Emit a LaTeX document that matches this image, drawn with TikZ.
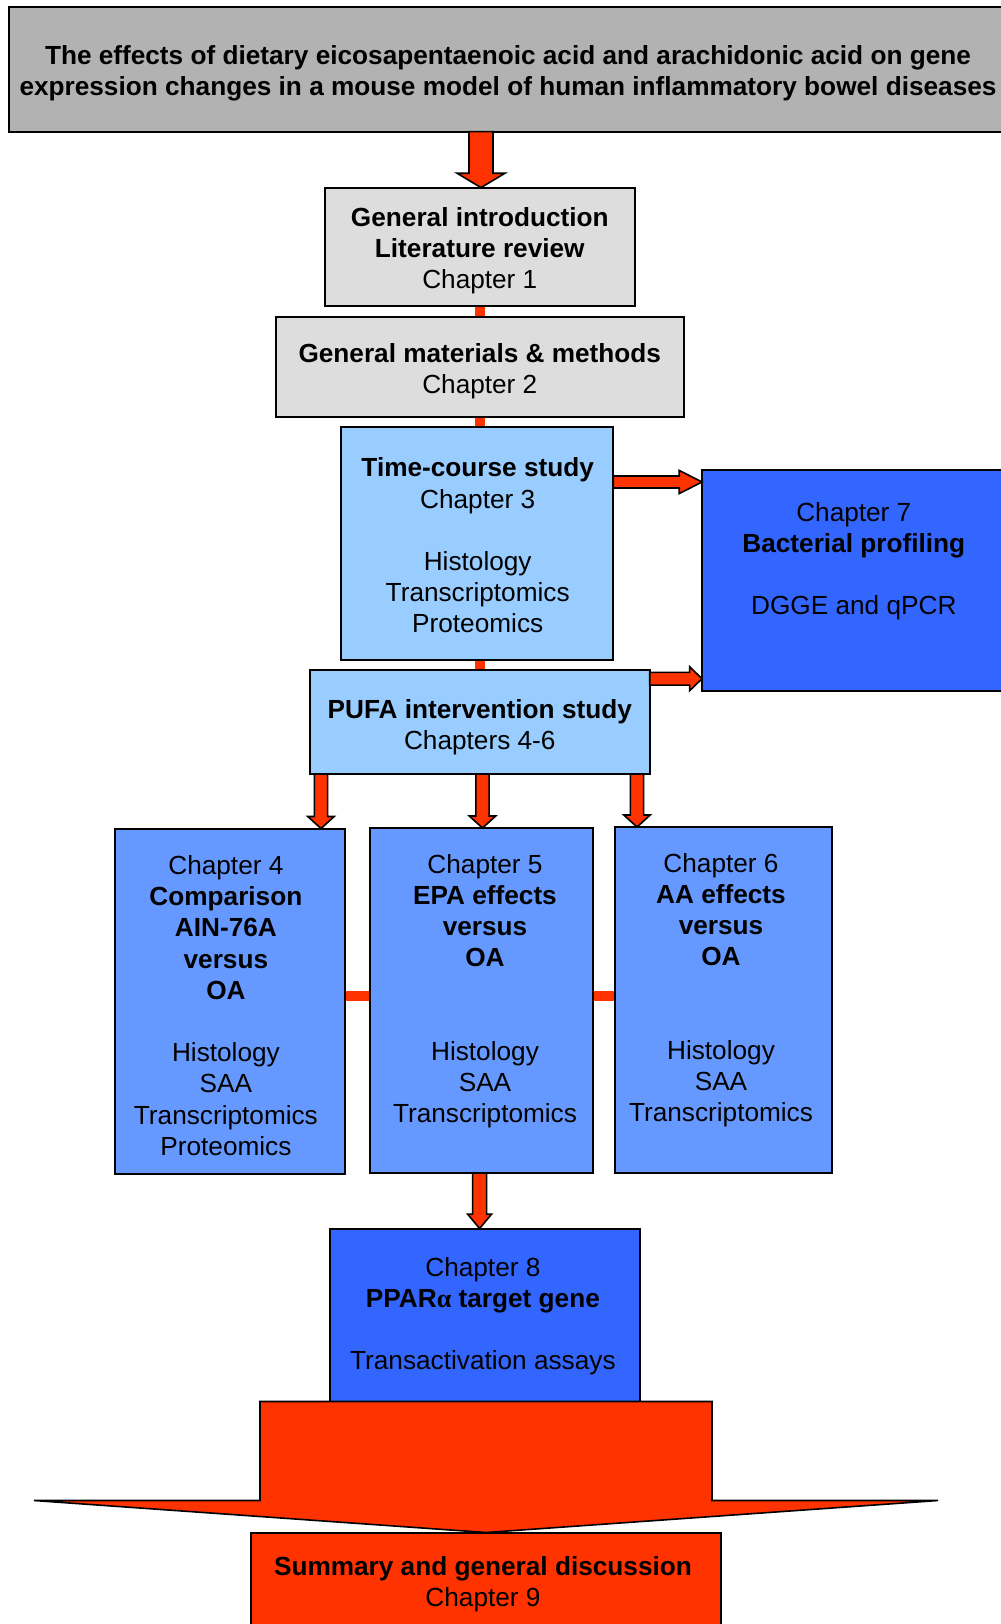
\documentclass[tikz,border=0pt]{standalone}
\usepackage{fontspec}
\setmainfont{Liberation Sans}
\newfontfamily\greekserif{Liberation Serif}
\usetikzlibrary{calc,fit,backgrounds}

\definecolor{titlegrey}{HTML}{B2B2B2}
\definecolor{boxgrey}{HTML}{DDDDDD}
\definecolor{paleblue}{HTML}{99CCFF}
\definecolor{midblue}{HTML}{6699FF}
\definecolor{deepblue}{HTML}{3366FF}
\definecolor{flowred}{HTML}{FF3300}

% block arrow pointing down: #1 top point, #2 tip point,
% #3 half shaft width, #4 half head width, #5 head length
\newcommand\arrowdown[5]{%
  \draw[blockarrow] let \p1=#1, \p2=#2 in
    (\x1-#3,\y1) -- (\x1+#3,\y1) -- (\x1+#3,\y2+#5) -- (\x1+#4,\y2+#5)
    -- (\x1,\y2) -- (\x1-#4,\y2+#5) -- (\x1-#3,\y2+#5) -- cycle;}
% block arrow pointing right: #1 tail point, #2 tip point
\newcommand\arrowright[5]{%
  \draw[blockarrow] let \p1=#1, \p2=#2 in
    (\x1,\y1+#3) -- (\x2-#5,\y1+#3) -- (\x2-#5,\y1+#4) -- (\x2,\y1)
    -- (\x2-#5,\y1-#4) -- (\x2-#5,\y1-#3) -- (\x1,\y1-#3) -- cycle;}

\tikzset{
  frame/.style={draw=black, line width=1pt, inner sep=0pt, outer sep=0pt},
  txt/.style={align=center, font=\fontsize{13.1}{15.6}\selectfont, inner sep=0pt,
    execute at begin node=\strut, execute at end node=\strut},
  blockarrow/.style={fill=flowred, draw=black, line width=0.8pt, line join=miter},
  link/.style={draw=flowred, line width=5pt}
}

\begin{document}
\begin{tikzpicture}[x=0.5pt,y=-0.5pt]
\useasboundingbox (0,0) rectangle (1001,1624);

% reference positions for connectors
\coordinate (xtop) at (481,0);
\coordinate (xl) at (321,0);
\coordinate (xm) at (482.5,0);
\coordinate (xr) at (637,0);
\coordinate (x8) at (479.6,0);
\coordinate (xbig) at (486,0);
\coordinate (xbar) at (480,0);
\coordinate (ybar) at (0,995.7);
\coordinate (y7a) at (0,482);
\coordinate (y7b) at (0,678.7);

% boxes
\node[frame, fill=titlegrey, fit={(9.3,7.3) (1010,131.6)}] (title) {};
\node[frame, fill=boxgrey, fit={(325.4,187.6) (635.2,305.7)}] (b1) {};
\node[frame, fill=boxgrey, fit={(275.6,317.1) (683.9,416.6)}] (b2) {};
\node[frame, fill=paleblue, fit={(340.9,426.9) (613.4,660.1)}] (b3) {};
\node[frame, fill=paleblue, fit={(309.8,670.4) (649.7,774.0)}] (b4) {};
\node[frame, fill=deepblue, fit={(702,470.4) (1006,691)}] (ch7) {};
\node[frame, fill=midblue, fit={(115,828.5) (345,1173.5)}] (ch4) {};
\node[frame, fill=midblue, fit={(370,828) (593,1173)}] (ch5) {};
\node[frame, fill=midblue, fit={(614.5,827) (831.5,1172.5)}] (ch6) {};
\node[frame, fill=deepblue, fit={(330.3,1228.5) (640,1401.5)}] (ch8) {};
\node[frame, fill=flowred, fit={(251,1532.5) (721.4,1630)}] (ch9) {};

% texts
\node[txt] (titletext) at (508,75)
  {\textbf{The effects of dietary eicosapentaenoic acid and arachidonic acid on gene}\\
   \textbf{expression changes in a mouse model of human inflammatory bowel diseases}};
\node[txt] (b1text) at (479.8,252.5)
  {\textbf{General introduction}\\\textbf{Literature review}\\Chapter 1};
\node[txt] (b2text) at (479.8,373)
  {\textbf{General materials \& methods}\\Chapter 2};
\node[txt] (b3text) at (477.7,550)
  {\textbf{Time-course study}\\Chapter 3\\[15.6pt]Histology\\Transcriptomics\\Proteomics};
\node[txt] (b4text) at (479.8,729.5)
  {\textbf{PUFA intervention study}\\Chapters 4-6};
\node[txt] (ch7text) at (853.8,563)
  {Chapter 7\\\textbf{Bacterial profiling}\\[15.6pt]DGGE and qPCR};
\node[txt] (ch4text) at (225.9,1010)
  {Chapter 4\\\textbf{Comparison}\\\textbf{AIN-76A}\\\textbf{versus}\\\textbf{OA}\\[15.6pt]Histology\\SAA\\Transcriptomics\\Proteomics};
\node[txt] (ch5text) at (485,993)
  {Chapter 5\\\textbf{EPA effects}\\\textbf{versus}\\\textbf{OA}\\[31.2pt]Histology\\SAA\\Transcriptomics};
\node[txt] (ch6text) at (721,992)
  {Chapter 6\\\textbf{AA effects}\\\textbf{versus}\\\textbf{OA}\\[31.2pt]Histology\\SAA\\Transcriptomics};
\node[txt] (ch8text) at (482.9,1318)
  {Chapter 8\\\textbf{PPAR{\greekserif α} target gene}\\[15.6pt]Transactivation assays};
\node[txt] (ch9text) at (483,1586.5)
  {\textbf{Summary and general discussion}\\Chapter 9};

% short links between stacked boxes
\begin{scope}[on background layer]
  \draw[link] (b1.south -| xbar) -- (b2.north -| xbar);
  \draw[link] (b2.south -| xbar) -- (b3.north -| xbar);
  \draw[link] (b3.south -| xbar) -- (b4.north -| xbar);
  \draw[link] (ch4.east |- ybar) -- (ch5.west |- ybar);
  \draw[link] (ch5.east |- ybar) -- (ch6.west |- ybar);
\end{scope}

% block arrows
\arrowdown{(xtop |- title.south)}{(xtop |- b1.north)}{6pt}{12pt}{7.2pt}
\arrowright{(b3.east |- y7a)}{(ch7.west |- y7a)}{3pt}{5.8pt}{11.4pt}
\arrowright{(b4.east |- y7b)}{(ch7.west |- y7b)}{3.2pt}{6pt}{6.2pt}
\arrowdown{(xl |- b4.south)}{(xl |- ch4.north)}{3.3pt}{6.6pt}{6pt}
\arrowdown{(xm |- b4.south)}{(xm |- ch5.north)}{3.3pt}{6.6pt}{6pt}
\arrowdown{(xr |- b4.south)}{(xr |- ch6.north)}{3.3pt}{6.6pt}{6pt}
\arrowdown{(x8 |- ch5.south)}{(x8 |- ch8.north)}{3.5pt}{6pt}{7.2pt}

% wide arrow into the summary box
\draw[blockarrow] let \p1=(xbig |- ch8.south), \p2=(xbig |- ch9.north) in
  (\x1-113pt,\y1) -- (\x1+113pt,\y1) -- (\x1+113pt,\y2+16pt) -- (\x1+226pt,\y2+16pt)
  -- (\x1,\y2) -- (\x1-226pt,\y2+16pt) -- (\x1-113pt,\y2+16pt) -- cycle;
\end{tikzpicture}
\end{document}
